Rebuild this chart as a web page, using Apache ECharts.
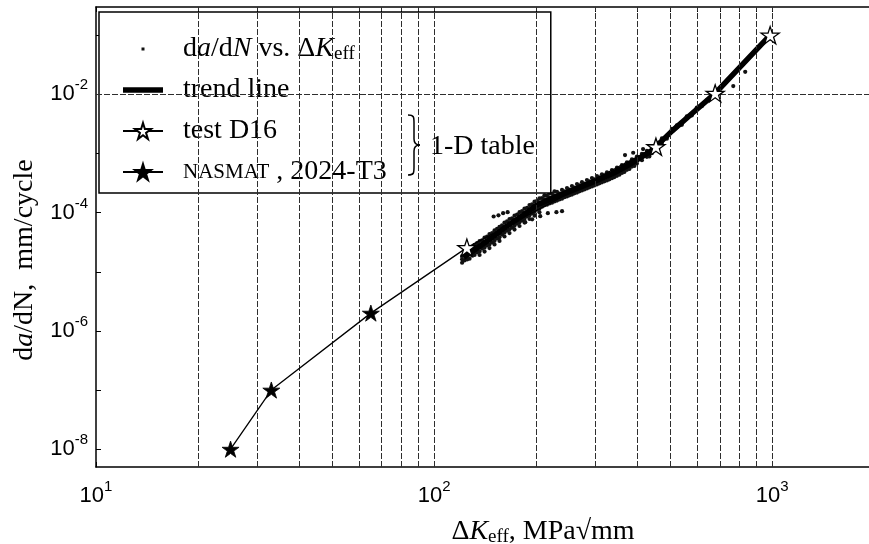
<!DOCTYPE html>
<html>
<head>
<meta charset="utf-8">
<script src="https://cdn.jsdelivr.net/npm/echarts@6/dist/echarts.min.js"></script>
<style>
  html, body { margin: 0; padding: 0; background: #fff; }
  #chart { width: 869px; height: 544px; }
</style>
</head>
<body>
<div id="chart"></div>
<script>
// ---- data ----------------------------------------------------------------
// measured crack growth rate da/dN (mm/cycle) against ΔKeff (MPa√mm)
const measuredPoints = [
  [121,1.63e-5],[121,1.42e-5],[121,1.85e-5],[123,1.55e-5],
  [125.2,1.87e-5],[125.2,2.25e-5],[125.2,1.62e-5],[127.3,2.1e-5],[127.3,1.66e-5],
  [129.5,2.17e-5],[129.5,2.55e-5],[129.5,1.88e-5],[131.7,2.43e-5],[131.7,1.93e-5],[131.7,2.85e-5],
  [134,2.49e-5],[134,3.05e-5],[134,2.12e-5],[136.3,2.8e-5],[136.3,2.2e-5],[136.3,3.3e-5],[136.3,1.92e-5],
  [138.6,2.86e-5],[138.6,3.4e-5],[138.6,2.45e-5],[141,3.2e-5],[141,2.55e-5],[141,3.8e-5],[141,2.2e-5],
  [143.4,3.27e-5],[143.4,3.95e-5],[143.4,2.78e-5],[145.8,3.66e-5],[145.8,2.9e-5],[145.8,4.35e-5],[145.8,2.52e-5],
  [148.4,3.75e-5],[148.4,4.5e-5],[148.4,3.15e-5],[150.9,4.2e-5],[150.9,3.34e-5],[150.9,5.0e-5],[150.9,2.9e-5],
  [153.5,4.32e-5],[153.5,5.3e-5],[153.5,3.65e-5],[156.1,4.84e-5],[156.1,3.85e-5],[156.1,5.75e-5],[156.1,3.33e-5],
  [158.8,5.13e-5],[158.8,6.1e-5],[158.8,4.25e-5],[161.5,5.75e-5],[161.5,4.57e-5],[161.5,6.8e-5],[161.5,3.95e-5],
  [164.3,5.87e-5],[164.3,7.1e-5],[164.3,4.95e-5],[167.1,6.57e-5],[167.1,5.22e-5],[167.1,7.8e-5],[167.1,4.52e-5],
  [170,6.73e-5],[170,8.0e-5],[170,5.6e-5],[172.9,7.54e-5],[172.9,5.99e-5],[172.9,8.9e-5],[172.9,5.18e-5],
  [175.9,7.71e-5],[175.9,9.3e-5],[175.9,6.5e-5],[178.9,8.64e-5],[178.9,6.86e-5],[178.9,1.02e-4],[178.9,5.94e-5],
  [182,8.83e-5],[182,1.06e-4],[182,7.4e-5],[185.1,9.89e-5],[185.1,7.86e-5],[185.1,1.17e-4],[185.1,6.8e-5],
  [188.3,1.01e-4],[188.3,1.21e-4],[188.3,8.6e-5],[191.5,1.13e-4],[191.5,9.0e-5],[191.5,1.34e-4],[191.5,7.8e-5],
  [194.8,1.16e-4],[194.8,1.38e-4],[194.8,9.8e-5],[198.1,1.3e-4],[198.1,1.03e-4],[198.1,1.53e-4],[198.1,8.9e-5],
  [201.5,1.33e-4],[201.5,1.58e-4],[201.5,1.12e-4],[204.9,1.49e-4],[204.9,1.18e-4],[204.9,1.75e-4],[204.9,1.02e-4],
  [208.5,1.49e-4],[208.5,1.76e-4],[208.5,1.26e-4],[212,1.67e-4],[212,1.33e-4],[212,1.96e-4],
  [215.7,1.61e-4],[215.7,1.92e-4],[215.7,1.36e-4],[219.4,1.8e-4],[219.4,1.43e-4],[219.4,2.12e-4],
  [223.2,1.74e-4],[223.2,2.08e-4],[223.2,1.47e-4],[227,1.95e-4],[227,1.55e-4],[227,2.28e-4],
  [230.9,1.88e-4],[230.9,2.24e-4],[230.9,1.6e-4],[234.8,2.1e-4],[234.8,1.67e-4],
  [238.9,2.04e-4],[238.9,2.42e-4],[238.9,1.72e-4],[243,2.28e-4],[243,1.82e-4],
  [247.2,2.2e-4],[247.2,2.6e-4],[247.2,1.88e-4],[251.4,2.46e-4],[251.4,1.96e-4],
  [255.7,2.38e-4],[255.7,2.82e-4],[255.7,2.02e-4],[260,2.66e-4],[260,2.12e-4],
  [264.6,2.57e-4],[264.6,3.04e-4],[264.6,2.18e-4],[269.1,2.88e-4],[269.1,2.29e-4],
  [273.7,2.78e-4],[273.7,3.28e-4],[273.7,2.37e-4],[278.4,3.11e-4],[278.4,2.47e-4],
  [283.2,3.01e-4],[283.2,3.55e-4],[283.2,2.56e-4],[288,3.37e-4],[288,2.68e-4],
  [293,3.25e-4],[293,3.84e-4],[293,2.78e-4],[298,3.64e-4],[298,2.89e-4],
  [303.1,3.52e-4],[303.1,4.15e-4],[303.1,3.0e-4],[308.3,3.94e-4],[308.3,3.13e-4],
  [313.6,3.8e-4],[313.6,4.45e-4],[313.6,3.25e-4],[318.9,4.26e-4],[318.9,3.38e-4],
  [324.5,4.11e-4],[324.5,4.8e-4],[324.5,3.5e-4],[330,4.6e-4],[330,3.66e-4],
  [335.7,4.48e-4],[335.7,5.25e-4],[335.7,3.82e-4],[341.4,5.0e-4],[341.4,3.99e-4],
  [347.3,4.93e-4],[347.3,5.75e-4],[347.3,4.2e-4],[353.2,5.5e-4],[353.2,4.39e-4],
  [359.3,5.48e-4],[359.3,6.35e-4],[359.3,4.7e-4],[365.4,6.1e-4],[365.4,4.88e-4],
  [371.8,6.16e-4],[371.8,7.1e-4],[371.8,5.3e-4],[378.1,6.9e-4],[378.1,5.48e-4],
  [384.6,6.92e-4],[384.6,7.95e-4],[384.6,6.0e-4],[391.1,7.75e-4],[391.1,6.16e-4],
  [397.9,7.78e-4],[397.9,8.9e-4],[397.9,6.8e-4],[404.7,8.7e-4],
  [411.7,8.75e-4],[411.7,9.9e-4],[411.7,7.7e-4],[418.7,9.8e-4],
  [425.9,9.84e-4],[425.9,1.11e-3],[425.9,8.8e-4],[433.1,8.9e-4],
  [440.7,1.13e-3],[440.7,1.26e-3],[440.7,1.01e-3],
  [455.9,1.37e-3],[455.9,1.52e-3],[455.9,1.22e-3],
  [471.7,1.64e-3],[471.7,1.8e-3],[471.7,1.5e-3],
  [488,1.95e-3],[488,1.78e-3],
  [504.9,2.39e-3],[504.9,2.6e-3],
  [522.3,2.77e-3],[522.3,3.0e-3],
  [540.4,3.3e-3],[540.4,3.05e-3],
  [559.1,3.94e-3],[559.1,4.25e-3],
  [578.4,4.7e-3],[578.4,4.4e-3],
  [598.4,5.6e-3],[598.4,6.0e-3],
  [619.1,6.67e-3],[619.1,6.3e-3],
  [640.5,7.94e-3],[662.7,9.47e-3],[685.6,1.13e-2],
  // scattered readings off the main band
  [150,8.6e-5],[155,9.0e-5],[160,9.8e-5],[165,1.02e-4],
  [186,6.9e-5],[195,7.7e-5],[206,8.7e-5],[217,9.8e-5],[230,1.02e-4],[239,1.06e-4],
  [367,9.4e-4],[388,1.03e-3],[415,1.19e-3],
  [767,1.38e-2],[832,2.4e-2]
];

const trendLine = [
  [122,1.75e-5],[134,2.5e-5],[148,3.75e-5],[164,5.9e-5],[182,8.8e-5],
  [201,1.33e-4],[223,1.74e-4],[256,2.38e-4],[293,3.25e-4],[336,4.5e-4],
  [385,6.9e-4],[441,1.13e-3],[505,2.39e-3],[578,4.7e-3],[678,1.04e-2],[986,0.1]
];

const testD16 = [[125,2.56e-5],[453,1.3e-3],[678,1.04e-2],[986,0.1]];
const nasmat = [[25,1e-8],[33,1e-7],[65,2e-6]];

// axis ticks
const kRange = [10, 2000];
const rateRange = [5e-9, 0.3];
const kLabelValues = [10, 100, 1000];
const kTickValues = [10,20,30,40,50,60,70,80,90,100,200,300,400,500,600,700,800,900,1000];
const kGridValues = [20,30,40,50,60,70,80,90,100,200,300,400,500,600,700,800,900,1000];
const rateLabelValues = [1e-8, 1e-6, 1e-4, 1e-2];
const rateTickValues = [1e-8,1e-7,1e-6,1e-5,1e-4,1e-3,1e-2,1e-1];
const rateGridValues = [1e-8, 1e-6, 1e-4, 1e-2];

// ---- styling -------------------------------------------------------------
const SERIF = '"Liberation Serif", "Times New Roman", serif';
const SANS = '"Liberation Sans", Arial, sans-serif';
const STAR = 'path://M50,0L61.2,34.6L97.6,34.5L68.1,55.9L79.4,90.5L50,69L20.6,90.5L31.9,55.9L2.4,34.5L38.8,34.6Z';

const powerLabel = v => '{b|10}{s|' + Math.round(Math.log10(v)) + '}';
const powerRich = {
  b: { fontFamily: SANS, fontSize: 22, color: '#000' },
  s: { fontFamily: SANS, fontSize: 15, color: '#000', padding: [0, 0, 18, 0] }
};

const serifRich = {
  t: { fontFamily: SERIF, fontSize: 28, color: '#000', lineHeight: 32 },
  i: { fontFamily: SERIF, fontSize: 28, fontStyle: 'italic', color: '#000', lineHeight: 32 },
  sub: { fontFamily: SERIF, fontSize: 19, color: '#000', lineHeight: 22, padding: [10, 0, 0, 0] },
  sc: { fontFamily: SERIF, fontSize: 21, color: '#000', lineHeight: 32 }
};

const legendText = {
  'measured': '{t|d}{i|a}{t|/d}{i|N}{t| vs. Δ}{i|K}{sub|eff}',
  'trend': '{t|trend line}',
  'D16': '{t|test D16}',
  'NASMAT': '{sc|NASMAT}{t| , 2024-T3}'
};

const baseAxis = {
  type: 'log',
  logBase: 10,
  axisLine: { show: true, onZero: false, lineStyle: { color: '#000', width: 1.5 } },
  splitLine: { show: false },
  minorTick: { show: false },
  minorSplitLine: { show: false }
};

const gridLineStyle = { color: '#2e2e2e', width: 1, type: [6, 2] };

// curly brace grouping the two table entries in the legend
const braceSegments = [
  { type: 'bezierCurve', shape: { x1: 0, y1: 0, cpx1: 6, cpy1: 0, cpx2: 6, cpy2: 2, x2: 6, y2: 8 } },
  { type: 'line', shape: { x1: 6, y1: 8, x2: 6, y2: 24 } },
  { type: 'bezierCurve', shape: { x1: 6, y1: 24, cpx1: 6, cpy1: 28, cpx2: 8, cpy2: 30, x2: 12, y2: 30 } },
  { type: 'bezierCurve', shape: { x1: 12, y1: 30, cpx1: 8, cpy1: 30, cpx2: 6, cpy2: 32, x2: 6, y2: 36 } },
  { type: 'line', shape: { x1: 6, y1: 36, x2: 6, y2: 52 } },
  { type: 'bezierCurve', shape: { x1: 6, y1: 52, cpx1: 6, cpy1: 58, cpx2: 6, cpy2: 60, x2: 0, y2: 60 } }
].map(seg => Object.assign(seg, {
  x: 408, y: 115, z: 100,
  style: { stroke: '#000', fill: null, lineWidth: 1.5 }
}));

const chart = echarts.init(document.getElementById('chart'), null, { renderer: 'canvas' });

chart.setOption({
  animation: false,
  backgroundColor: '#fff',
  grid: { left: 96, top: 7, width: 778, height: 460, containLabel: false, outerBoundsMode: 'none' },
  xAxis: [
    Object.assign({}, baseAxis, {
      position: 'bottom',
      min: kRange[0], max: kRange[1],
      axisTick: { show: true, inside: true, length: 5, customValues: kTickValues, lineStyle: { color: '#000' } },
      axisLabel: { customValues: kLabelValues, formatter: powerLabel, rich: powerRich, margin: 12, hideOverlap: false },
      name: '{t|Δ}{i|K}{sub|eff}{t|, MPa√mm}',
      nameLocation: 'middle',
      nameGap: 49,
      nameMoveOverlap: false,
      nameTextStyle: { rich: serifRich, padding: [0, 0, 0, 116] }
    }),
    Object.assign({}, baseAxis, {
      position: 'top',
      min: kRange[0], max: kRange[1],
      axisTick: { show: true, inside: true, length: 5, customValues: kTickValues, lineStyle: { color: '#000' } },
      axisLabel: { show: false }
    })
  ],
  yAxis: [
    Object.assign({}, baseAxis, {
      position: 'left',
      min: rateRange[0], max: rateRange[1],
      axisTick: { show: true, inside: true, length: 5, customValues: rateTickValues, lineStyle: { color: '#000' } },
      axisLabel: { customValues: rateLabelValues, formatter: powerLabel, rich: powerRich, margin: 8, hideOverlap: false },
      name: '{t|d}{i|a}{t|/dN,  mm/cycle}',
      nameLocation: 'middle',
      nameRotate: 90,
      nameGap: 55,
      nameMoveOverlap: false,
      nameTextStyle: { rich: serifRich, padding: [0, 46, 0, 0] }
    }),
    Object.assign({}, baseAxis, {
      position: 'right',
      min: rateRange[0], max: rateRange[1],
      axisTick: { show: true, inside: true, length: 5, customValues: rateTickValues, lineStyle: { color: '#000' } },
      axisLabel: { show: false }
    })
  ],
  legend: {
    left: 99,
    top: 12,
    orient: 'vertical',
    itemWidth: 40,
    itemHeight: 20,
    itemGap: 9,
    padding: [21, 164, 5, 23],
    borderColor: '#000',
    borderWidth: 1.5,
    borderRadius: 0,
    backgroundColor: '#fff',
    selectedMode: false,
    data: [
      { name: 'measured', icon: 'path://M0,0M40,20M18.5,8.5h3v3h-3z' },
      { name: 'trend', icon: 'path://M0,0M40,20M0,7.3h40v5.4h-40z' },
      { name: 'D16' },
      { name: 'NASMAT' }
    ],
    formatter: name => legendText[name],
    textStyle: { fontFamily: SERIF, fontSize: 28, color: '#000', lineHeight: 32, padding: [0, 0, 0, 15], rich: serifRich }
  },
  graphic: braceSegments.concat([
    {
      type: 'text',
      x: 430, y: 147, z: 100,
      style: { text: '1-D table', font: '28px ' + SERIF, fill: '#000', verticalAlign: 'middle' }
    }
  ]),
  series: [
    {
      // dashed grid lines at the minor decades of ΔK and even decades of da/dN
      name: 'gridlines',
      type: 'line',
      xAxisIndex: 0, yAxisIndex: 0,
      data: [],
      z: 1,
      silent: true,
      markLine: {
        silent: true,
        symbol: ['none', 'none'],
        label: { show: false },
        lineStyle: gridLineStyle,
        data: kGridValues.map(v => ({ xAxis: v })).concat(rateGridValues.map(v => ({ yAxis: v })))
      }
    },
    {
      name: 'measured',
      type: 'scatter',
      xAxisIndex: 0, yAxisIndex: 0,
      data: measuredPoints,
      symbol: 'circle',
      symbolSize: 4.2,
      itemStyle: { color: '#111', opacity: 1 },
      z: 3
    },
    {
      name: 'trend',
      type: 'line',
      xAxisIndex: 0, yAxisIndex: 0,
      data: trendLine,
      symbol: 'none',
      lineStyle: { color: '#000', width: 5.5 },
      itemStyle: { color: '#000' },
      z: 4
    },
    {
      name: 'NASMAT',
      type: 'line',
      xAxisIndex: 0, yAxisIndex: 0,
      // the NASMAT table continues into the first D16 entry
      data: nasmat.concat([{ value: testD16[0], symbol: 'none' }]),
      symbol: STAR,
      symbolSize: 17,
      symbolKeepAspect: true,
      lineStyle: { color: '#000', width: 1.3 },
      itemStyle: { color: '#000', borderColor: '#000', borderWidth: 0.8 },
      z: 5
    },
    {
      name: 'D16',
      type: 'line',
      xAxisIndex: 0, yAxisIndex: 0,
      data: testD16,
      symbol: STAR,
      symbolSize: 18,
      symbolKeepAspect: true,
      lineStyle: { color: '#000', width: 1.3 },
      itemStyle: { color: '#fff', borderColor: '#000', borderWidth: 1.3 },
      z: 6
    }
  ]
});
</script>
</body>
</html>
